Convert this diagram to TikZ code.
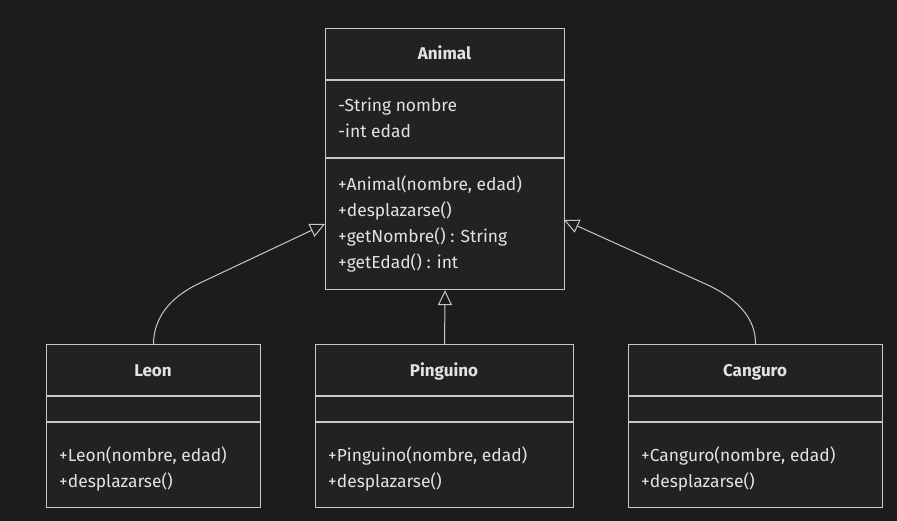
\documentclass[tikz,border=0pt]{standalone}
\usepackage{fontspec}
\setmainfont{Fira Sans}
\usetikzlibrary{arrows.meta}
\definecolor{bg}{HTML}{1C1C1E}
\definecolor{boxfill}{HTML}{222222}
\definecolor{edge}{HTML}{C8C8C8}
\definecolor{txt}{HTML}{E2E2E2}
\begin{document}
\begin{tikzpicture}[x=1pt,y=-1pt,
  classbox/.style={draw=edge, fill=boxfill, line width=1.1pt, rectangle, anchor=north west, inner sep=0pt},
  divider/.style={draw=edge, line width=1.1pt},
  ctitle/.style={text=txt, font=\fontsize{17}{20}\selectfont\bfseries, inner sep=0pt, anchor=base},
  member/.style={text=txt, font=\fontsize{17.4}{20}\selectfont, inner sep=0pt, anchor=base west},
  inherit/.style={draw=edge, line width=1pt, -{Triangle[open, length=15pt, width=14pt, fill=bg]}}
]
\fill[bg] (0,0) rectangle (897,521);
\useasboundingbox (0,0) rectangle (897,521);

% Animal
\node[classbox, minimum width=239pt, minimum height=261pt] (animal) at (325,28) {};
\draw[divider] (325,80) -- (564,80);
\draw[divider] (325,158) -- (564,158);
\node[ctitle] (animalT) at (444.5,60) {Animal};
\node[member] (a1) at (338,112) {-String nombre};
\node[member] (a2) at (338,138) {-int edad};
\node[member] (a3) at (338,191) {+Animal(nombre, edad)};
\node[member] (a4) at (338,217) {+desplazarse()};
\node[member] (a5) at (338,243) {+getNombre() : String};
\node[member] (a6) at (338,269) {+getEdad() : int};

% Leon
\node[classbox, minimum width=214pt, minimum height=163pt] (leon) at (46,344) {};
\draw[divider] (46,396) -- (260,396);
\draw[divider] (46,422) -- (260,422);
\node[ctitle] (leonT) at (153,376) {Leon};
\node[member] (l1) at (59,461) {+Leon(nombre, edad)};
\node[member] (l2) at (59,487) {+desplazarse()};

% Pinguino
\node[classbox, minimum width=258pt, minimum height=163pt] (ping) at (315,344) {};
\draw[divider] (315,396) -- (573,396);
\draw[divider] (315,422) -- (573,422);
\node[ctitle] (pingT) at (444,376) {Pinguino};
\node[member] (p1) at (328,461) {+Pinguino(nombre, edad)};
\node[member] (p2) at (328,487) {+desplazarse()};

% Canguro
\node[classbox, minimum width=254pt, minimum height=163pt] (cang) at (628,344) {};
\draw[divider] (628,396) -- (882,396);
\draw[divider] (628,422) -- (882,422);
\node[ctitle] (cangT) at (755,376) {Canguro};
\node[member] (c1) at (641,461) {+Canguro(nombre, edad)};
\node[member] (c2) at (641,487) {+desplazarse()};

% connectors
\coordinate (aL) at (325,224);
\coordinate (aR) at (564,220);
\draw[inherit] (leon.north) .. controls ++(0,-26) and (170,297) .. (200,283) -- (aL);
\draw[inherit] (ping.north) -- (animal.south);
\draw[inherit] (cang.north) .. controls ++(0,-26) and (738,300) .. (710,286) -- (aR);
\end{tikzpicture}
\end{document}
